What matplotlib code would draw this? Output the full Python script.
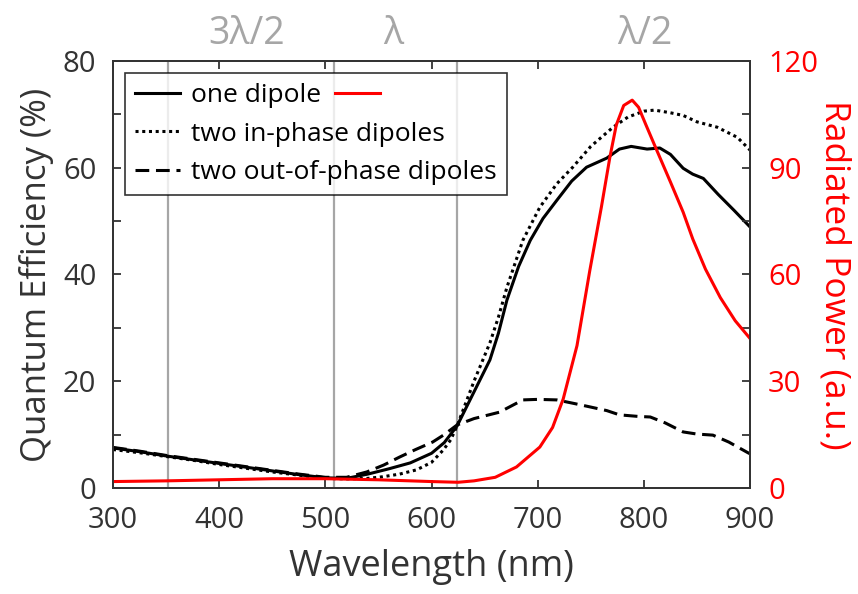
import numpy as np
import matplotlib
matplotlib.use('Agg')
import matplotlib.pyplot as plt
from matplotlib.lines import Line2D
from matplotlib.ticker import MultipleLocator

plt.rcParams['font.family'] = ['Open Sans', 'DejaVu Sans']

# one dipole (quantum efficiency, %)
wl_one = [300, 325, 350, 375, 400, 425, 450, 475, 500, 520, 540, 560, 580, 600, 612,
          624, 640, 655, 663, 671, 682, 693, 705, 718, 732, 746, 765, 777, 788, 803,
          815, 825, 837, 846, 856, 870, 885, 900]
qe_one = [7.5, 6.8, 6.0, 5.3, 4.6, 3.9, 3.2, 2.5, 1.9, 1.8, 2.6, 3.6, 4.7, 6.5, 8.5,
          11.6, 18.0, 24.0, 29.0, 35.2, 41.5, 46.4, 50.5, 53.9, 57.5, 60.1, 61.8, 63.5, 64.0, 63.5,
          63.7, 62.5, 59.9, 58.8, 58.0, 55.0, 52.0, 48.9]

# two in-phase dipoles
wl_in = [300, 325, 350, 375, 400, 425, 450, 475, 500, 520, 540, 554, 570, 586, 600,
         611, 618, 624, 640, 655, 663, 671, 686, 702, 718, 733, 750, 771, 785, 800,
         810, 825, 837, 850, 869, 888, 900]
qe_in = [7.2, 6.6, 5.9, 5.2, 4.4, 3.7, 3.0, 2.4, 1.8, 1.7, 1.8, 2.1, 2.6, 3.4, 4.8,
         7.1, 9.0, 11.6, 20.0, 27.2, 32.0, 37.6, 46.4, 52.6, 57.0, 60.1, 64.0, 67.6, 69.5, 70.6,
         70.8, 70.3, 69.8, 68.6, 67.6, 65.7, 63.3]

# two out-of-phase dipoles
wl_out = [300, 325, 350, 375, 400, 425, 450, 475, 500, 520, 539, 555, 570, 585, 601,
          612, 624, 640, 664, 686, 700, 718, 735, 749, 765, 777, 795, 806, 820, 837,
          850, 865, 880, 898, 900]
qe_out = [7.6, 6.9, 6.1, 5.4, 4.7, 4.0, 3.3, 2.6, 2.0, 2.0, 3.0, 4.3, 5.8, 7.2, 8.6,
          10.0, 11.8, 13.0, 14.2, 16.5, 16.6, 16.5, 15.8, 15.2, 14.5, 13.7, 13.4, 13.3, 12.2, 10.5,
          10.1, 9.9, 8.6, 6.6, 6.4]

# radiated power of one dipole (a.u.)
wl_rad = [300, 350, 400, 450, 500, 550, 600, 625, 640, 660, 680, 702, 714, 724, 737,
          749, 760, 768, 774, 781, 789, 795, 802, 812, 825, 837, 846, 858, 872, 886, 900]
power = [1.8, 2.0, 2.3, 2.6, 2.6, 2.3, 1.8, 1.6, 2.0, 3.0, 5.9, 11.5, 17.0, 25.0, 40.0,
         61.0, 79.0, 93.0, 102.0, 107.5, 109.0, 107.0, 102.0, 95.0, 86.0, 77.5, 70.0, 61.5, 53.5, 47.0, 42.0]

# mode boundaries and their labels
mode_lines = [352, 508, 624]
mode_labels = ['3λ/2', 'λ', 'λ/2']
mode_label_x = [426, 564, 801]

dark = '#333333'
gray = '#a6a6a6'

fig = plt.figure(figsize=(8.58, 5.94), dpi=100)
ax = fig.add_axes([0.1317, 0.1785, 0.7425, 0.7188])

for x in mode_lines:
    ax.axvline(x, color=gray, lw=1.6, zorder=1)
for x, t in zip(mode_label_x, mode_labels):
    ax.text(x, 85.0, t, color=gray, fontsize=27, ha='center', va='center')

l1, = ax.plot(wl_one, qe_one, color='black', lw=2.2, label='one dipole')
l2, = ax.plot(wl_in, qe_in, color='black', lw=2.2, ls=(0, (1, 1.2)), label='two in-phase dipoles')
l3, = ax.plot(wl_out, qe_out, color='black', lw=2.2, ls=(0, (4.5, 2.2)), label='two out-of-phase dipoles')

ax2 = ax.twinx()
ax2.plot(wl_rad, power, color='red', lw=2.2)

ax.set_xlim(300, 900)
ax.set_ylim(0, 80)
ax2.set_ylim(0, 120)

ax.xaxis.set_major_locator(MultipleLocator(100))
ax.yaxis.set_major_locator(MultipleLocator(20))
ax.yaxis.set_minor_locator(MultipleLocator(10))
ax2.yaxis.set_major_locator(MultipleLocator(30))
ax2.yaxis.set_minor_locator(MultipleLocator(15))

ax.tick_params(axis='both', which='both', direction='in', top=True, labelsize=21,
               colors=dark, length=6, width=1.3)
ax.tick_params(axis='x', which='major', pad=13)
ax.tick_params(axis='y', which='major', pad=12)
ax2.tick_params(axis='y', which='both', direction='in', labelsize=21, colors=dark,
                labelcolor='red', length=6, width=1.3, pad=13)
for a in (ax, ax2):
    for s in a.spines.values():
        s.set_color(dark)
        s.set_linewidth(1.3)

ax.set_xlabel('Wavelength (nm)', fontsize=26, color=dark, labelpad=10)
ax.set_ylabel('Quantum Efficiency (%)', fontsize=25, color=dark, labelpad=6)
ax2.set_ylabel('Radiated Power (a.u.)', fontsize=25.5, color='red', rotation=270, labelpad=24)

leg = ax.legend(handles=[l1, l2, l3], loc='upper left', fontsize=19, frameon=True,
                fancybox=False, edgecolor='black', handlelength=1.7, borderaxespad=0.45,
                labelspacing=0.5, handletextpad=0.4, borderpad=0.4)
leg.get_frame().set_linewidth(1.2)
leg.set_zorder(5)

# red line next to "one dipole" in the legend
fig.canvas.draw()
bb = leg.get_texts()[0].get_window_extent()
hb = leg.get_lines()[0].get_window_extent()
inv = fig.transFigure.inverted()
x0 = bb.x1 + 14
x1 = x0 + (hb.x1 - hb.x0)
yc = (hb.y0 + hb.y1) / 2
(fx0, fy), (fx1, _) = inv.transform([(x0, yc), (x1, yc)])
fig.add_artist(Line2D([fx0, fx1], [fy, fy], color='red', lw=2.2, zorder=10))

fig.savefig('out.png', dpi=100)
